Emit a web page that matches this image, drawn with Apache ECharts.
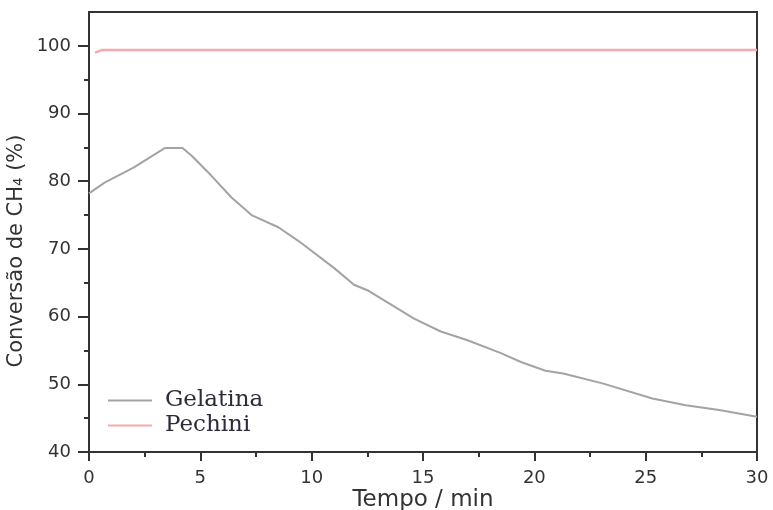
<!DOCTYPE html>
<html>
<head>
    <meta charset="utf-8">
    <title>Conversão de CH4</title>
    <script src="https://cdn.jsdelivr.net/npm/echarts@6/dist/echarts.min.js"></script>
    <style>
        html, body { margin: 0; padding: 0; background: #fff; }
    </style>
</head>
<body>
<div id="chart" style="width: 773px;height:510px;"></div>
<script type="text/javascript">
    // dados
    var gelatinaTime = [0, 0.7, 2.0, 3.4, 4.2, 4.6, 5.5, 6.4, 7.3, 8.5, 9.4, 11.0, 11.9, 12.5, 14.6, 15.8, 17.0, 18.5, 19.4, 20.5, 21.3, 23.1, 25.3, 26.8, 28.3, 30];
    var gelatinaConv = [78.2, 79.8, 82.0, 84.9, 84.9, 83.8, 80.8, 77.6, 75.0, 73.2, 71.2, 67.2, 64.7, 63.9, 59.7, 57.8, 56.5, 54.6, 53.3, 52.0, 51.6, 50.1, 47.9, 46.9, 46.2, 45.2];
    var pechiniTime = [0.27, 0.6, 30];
    var pechiniConv = [99.0, 99.4, 99.4];
    var yMajor = [40, 50, 60, 70, 80, 90, 100];
    var yMinor = [45, 55, 65, 75, 85, 95];

    function pairs(xs, ys) {
        var out = [];
        for (var i = 0; i < xs.length; i++) out.push([xs[i], ys[i]]);
        return out;
    }

    var chart = echarts.init(document.getElementById("chart"));
    var axisColor = '#333';
    var option = {
        animation: false,
        grid: {
            left: 89, right: 16, top: 12, bottom: 58,
            outerBoundsMode: 'none',
            show: true, borderColor: axisColor, borderWidth: 2
        },
        legend: {
            orient: 'vertical',
            left: 103,
            top: 384,
            itemWidth: 44,
            itemHeight: 2,
            itemGap: 2,
            icon: 'rect',
            textStyle: { fontFamily: 'DejaVu Serif', fontSize: 23, color: '#2b2b3a', padding: [0, 0, 0, 8] },
            data: ['Gelatina', 'Pechini']
        },
        xAxis: {
            type: 'value',
            min: 0, max: 30, interval: 5,
            name: 'Tempo / min',
            nameLocation: 'middle',
            nameGap: 37,
            nameMoveOverlap: false,
            nameTextStyle: { fontFamily: 'DejaVu Sans', fontSize: 23, color: '#333' },
            axisLine: { lineStyle: { color: axisColor, width: 2 } },
            axisTick: { length: 9, lineStyle: { color: axisColor, width: 2 } },
            minorTick: { show: true, splitNumber: 2, length: 5, lineStyle: { color: axisColor, width: 2 } },
            axisLabel: { margin: 17, fontFamily: 'DejaVu Sans', fontSize: 18, color: '#333' },
            splitLine: { show: false }
        },
        yAxis: [{
            type: 'value',
            min: 40, max: 105,
            name: 'Conversão de CH₄ (%)',
            nameLocation: 'middle',
            nameGap: 62,
            nameMoveOverlap: false,
            nameTextStyle: { fontFamily: 'DejaVu Sans', fontSize: 21, color: '#333', padding: [0, 38, 0, 0] },
            axisLine: { lineStyle: { color: axisColor, width: 2 } },
            axisTick: { length: 11, customValues: yMajor, lineStyle: { color: axisColor, width: 2 } },
            axisLabel: { margin: 18, customValues: yMajor, fontFamily: 'DejaVu Sans', fontSize: 18, color: '#333' },
            splitLine: { show: false }
        }, {
            type: 'value',
            min: 40, max: 105,
            position: 'left',
            axisLine: { show: false },
            axisTick: { length: 5, customValues: yMinor, lineStyle: { color: axisColor, width: 2 } },
            axisLabel: { show: false },
            splitLine: { show: false }
        }],
        series: [{
            name: 'Gelatina',
            type: 'line',
            showSymbol: false,
            color: '#a3a3a3',
            lineStyle: { width: 2 },
            data: pairs(gelatinaTime, gelatinaConv)
        }, {
            name: 'Pechini',
            type: 'line',
            showSymbol: false,
            color: '#f7a9ab',
            lineStyle: { width: 2.5 },
            data: pairs(pechiniTime, pechiniConv)
        }]
    };
    chart.setOption(option);
</script>
</body>
</html>
